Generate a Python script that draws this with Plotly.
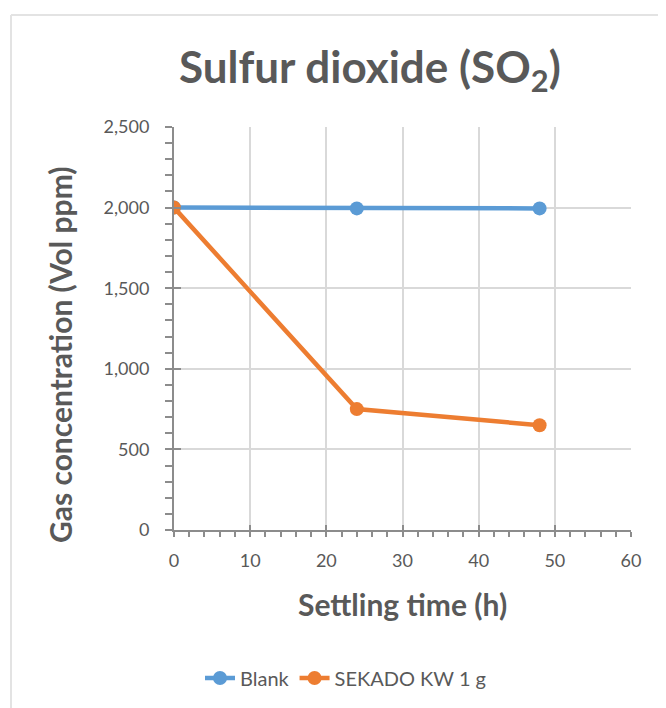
import plotly.graph_objects as go

time_h = [0, 24, 48]
blank = [2000, 1995, 1995]
sekado = [2000, 750, 650]
series_names = ["Blank", "SEKADO KW 1 g"]
colors = ["#5B9BD5", "#ED7D31"]

OFF = 8  # page body margin of the browser
W, H = 666 - OFF, 708 - OFF
# plot area in reference pixel coordinates
X0, X1, Y0, Y1 = 174, 631, 127, 530
L, R, T, B = X0 - OFF, 666 - X1, Y0 - OFF, 708 - Y1
pw, ph = W - L - R, H - T - B

def px(x):
    return (x - X0) / pw

def py(y):
    return 1 - (y - Y0) / ph

FONT = "Lato"
GRAY = "#595959"
AX = "#8c8c8c"

fig = go.Figure()
for name, vals, c in zip(series_names, [blank, sekado], colors):
    fig.add_trace(go.Scatter(x=time_h, y=vals, name=name, mode="lines+markers",
                             line=dict(color=c, width=4.5),
                             marker=dict(color=c, size=14)))
fig.add_trace(go.Scatter(x=[None], y=[None], xaxis="x2", yaxis="y2", showlegend=False, hoverinfo="skip"))

common_x = dict(range=[0, 60], dtick=10, showline=True, linecolor=AX, linewidth=2,
                ticklen=5, tickwidth=2, tickcolor=AX, zeroline=False,
                minor=dict(dtick=2, ticklen=5, tickwidth=1.5, tickcolor=AX, showgrid=False))
common_y = dict(range=[0, 2500], dtick=500, showline=True, linecolor=AX, linewidth=2,
                ticklen=7, tickwidth=2, tickcolor=AX, zeroline=False,
                minor=dict(dtick=100, ticklen=7, tickwidth=1.5, tickcolor=AX, showgrid=False))

fig.update_layout(
    width=W, height=H,
    margin=dict(l=L, r=R, t=T, b=B, autoexpand=False),
    paper_bgcolor="white", plot_bgcolor="white",
    font=dict(family=FONT, color=GRAY),
    xaxis=dict(**common_x, ticks="outside", showgrid=True, gridcolor="#d9d9d9", gridwidth=1.5,
               tickfont=dict(size=18, color=GRAY), ticklabelstandoff=8),
    yaxis=dict(**common_y, ticks="outside", showgrid=True, gridcolor="#d9d9d9", gridwidth=1.5,
               tickformat=",", tickfont=dict(size=18, color=GRAY), ticklabelstandoff=12),
    xaxis2=dict(**common_x, ticks="inside", overlaying="x", showgrid=False, showticklabels=False,
                anchor="y2", side="bottom"),
    yaxis2=dict(**common_y, ticks="inside", overlaying="y", showgrid=False, showticklabels=False,
                anchor="x2", side="left"),
    showlegend=True,
    legend=dict(orientation="h", x=px(346), xref="paper", xanchor="center",
                y=py(678), yanchor="middle", font=dict(size=20, color=GRAY),
                traceorder="normal"),
)

fig.add_annotation(text="<b>Sulfur dioxide (SO<sub>2</sub>)</b>", x=px(370), y=py(70),
                   xref="paper", yref="paper", showarrow=False, xanchor="center", yanchor="middle",
                   font=dict(size=44, color=GRAY, family=FONT))
fig.add_annotation(text="<b>Gas concentration (Vol ppm)</b>", x=px(60), y=py(355),
                   xref="paper", yref="paper", showarrow=False, textangle=-90,
                   xanchor="center", yanchor="middle", font=dict(size=30, color=GRAY, family=FONT))
fig.add_annotation(text="<b>Settling time (h)</b>", x=px(402), y=py(604),
                   xref="paper", yref="paper", showarrow=False,
                   xanchor="center", yanchor="middle", font=dict(size=30, color=GRAY, family=FONT))

# chart frame (left and top edges visible)
fig.add_shape(type="line", xref="paper", yref="paper", x0=px(11), x1=px(11), y0=py(15), y1=py(720),
              line=dict(color="#e3e3e3", width=2))
fig.add_shape(type="line", xref="paper", yref="paper", x0=px(11), x1=px(680), y0=py(15), y1=py(15),
              line=dict(color="#e3e3e3", width=2))

fig.write_html("out.html")
